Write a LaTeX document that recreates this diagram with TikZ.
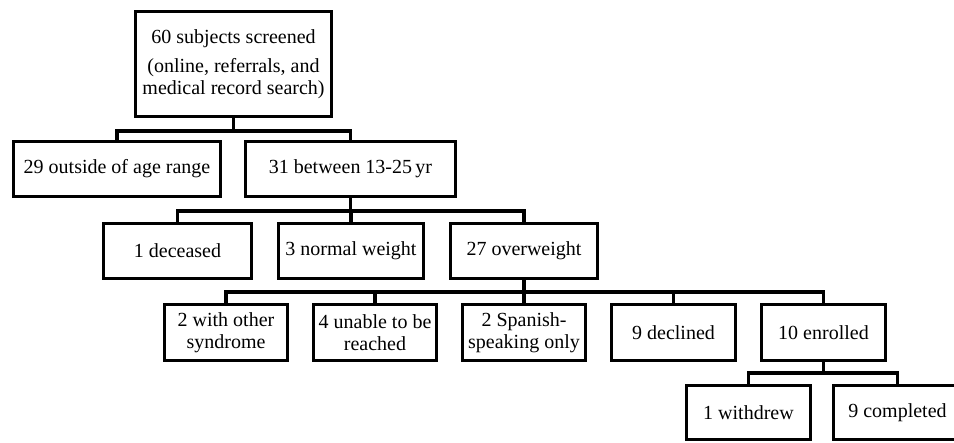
\documentclass[tikz,border=0pt]{standalone}
\usepackage{fontspec}
\setmainfont{Liberation Serif}
\begin{document}
\begin{tikzpicture}[x=1pt,y=-1pt,
  box/.style={draw, line width=3.6pt, inner sep=0pt, align=center,
    font=\fontsize{20}{22}\selectfont, fill=white},
  conn/.style={draw, line width=3.6pt, line join=miter}]
\useasboundingbox (0,0) rectangle (954,443);
\clip (0,0) rectangle (954,443);
% bar levels
\coordinate (b1) at (0,131);
\coordinate (b2) at (0,211);
\coordinate (b3) at (0,292);
\coordinate (b4) at (0,373);
% nodes
\node[box, minimum width=196, minimum height=105] (top) at (233.5,64)
  {60 subjects screened\\[7pt] (online, referrals, and\\ medical record search)};
\node[box, minimum width=207, minimum height=55] (n29) at (117,169) {29 outside of age range};
\node[box, minimum width=210, minimum height=55] (n31) at (350.5,169) {31 between 13-25\,yr};
\node[box, minimum width=148, minimum height=55] (dec) at (177.5,251) {1 deceased};
\node[box, minimum width=145, minimum height=55] (nw) at (351,251) {3 normal weight};
\node[box, minimum width=147, minimum height=55] (ow) at (524,251) {27 overweight};
\node[box, minimum width=123, minimum height=56] (syn) at (226,332.5) {2 with other\\syndrome};
\node[box, minimum width=123, minimum height=56] (unr) at (375,332.5) {4 unable to be\\reached};
\node[box, minimum width=123, minimum height=56] (spa) at (524,332.5) {2 Spanish-\\speaking only};
\node[box, minimum width=124, minimum height=56] (decl) at (673.5,332.5) {9 declined};
\node[box, minimum width=124, minimum height=56] (enr) at (823.5,332.5) {10 enrolled};
\node[box, minimum width=124, minimum height=54] (wd) at (748.5,412.5) {1 withdrew};
\node[box, minimum width=128, minimum height=54] (comp) at (897.5,412.5) {9 completed};
% connectors
\draw[conn] (top.south) |- (b1 -| n29) -- (n29.north);
\draw[conn] (top.south) |- (b1 -| n31) -- (n31.north);
\draw[conn] (n31.south) |- (b2 -| dec) -- (dec.north);
\draw[conn] (n31.south) |- (b2 -| nw) -- (nw.north);
\draw[conn] (n31.south) |- (b2 -| ow) -- (ow.north);
\draw[conn] (ow.south) |- (b3 -| syn) -- (syn.north);
\draw[conn] (ow.south) |- (b3 -| unr) -- (unr.north);
\draw[conn] (ow.south) |- (b3 -| spa) -- (spa.north);
\draw[conn] (ow.south) |- (b3 -| decl) -- (decl.north);
\draw[conn] (ow.south) |- (b3 -| enr) -- (enr.north);
\draw[conn] (enr.south) |- (b4 -| wd) -- (wd.north);
\draw[conn] (enr.south) |- (b4 -| comp) -- (comp.north);
\end{tikzpicture}
\end{document}
